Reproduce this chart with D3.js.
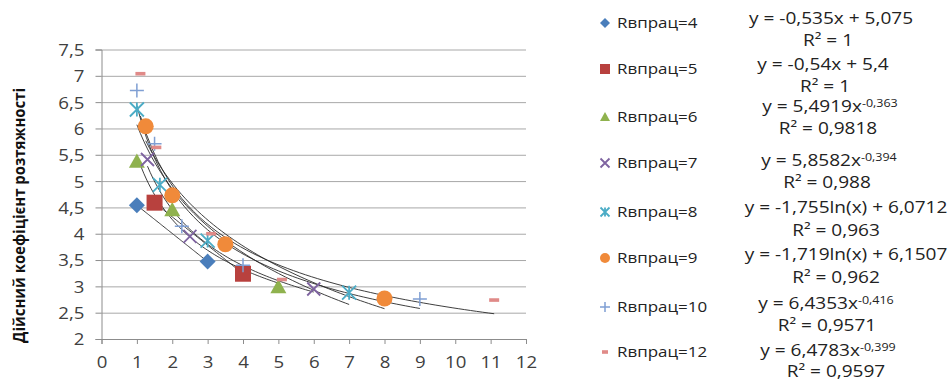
<!DOCTYPE html>
<html>
<head>
<meta charset="utf-8">
<script src="https://cdn.jsdelivr.net/npm/d3@7"></script>
<style>
  html, body { margin: 0; padding: 0; background: #fff; }
  svg { display: block; }
  text { font-family: "Open Sans", "Liberation Sans", sans-serif; }
</style>
</head>
<body>
<svg id="chart" width="948" height="380"></svg>
<script>
// ---- data ----
const seriesNames  = ["Rвпрац=4", "Rвпрац=5", "Rвпрац=6", "Rвпрац=7", "Rвпрац=8", "Rвпрац=9", "Rвпрац=10", "Rвпрац=12"];
const seriesColors = ["#4a7ebb", "#b8413e", "#8fb24e", "#7e63a0", "#4bacc6", "#f08a3a", "#7f9fd3", "#e08a88"];
const seriesShapes = ["diamond", "square", "triangle", "cross", "star", "circle", "plus", "dash"];

const xValues = [
  [1, 3],
  [1.5, 4],
  [1, 2, 5],
  [1.3, 2.5, 6],
  [1, 1.65, 3, 7],
  [1.25, 2, 3.5, 8],
  [1, 1.5, 2.27, 4, 9],
  [1.1, 1.55, 3.1, 5.1, 11.1]
];
const yValues = [
  [4.54, 3.47],
  [4.59, 3.24],
  [5.37, 4.45, 2.99],
  [5.41, 3.95, 2.95],
  [6.36, 4.93, 3.87, 2.88],
  [6.04, 4.73, 3.8, 2.77],
  [6.72, 5.71, 4.14, 3.4, 2.76],
  [7.04, 5.64, 4.0, 3.13, 2.74]
];

// trendline models: linear y=a*x+b, power y=a*x^b, log y=a*ln(x)+b
const trendTypes = ["linear", "linear", "power", "power", "log", "log", "power", "power"];
const trendA = [-0.535, -0.54, 5.4919, 5.8582, -1.755, -1.719, 6.4353, 6.4783];
const trendB = [5.075, 5.4, -0.363, -0.394, 6.0712, 6.1507, -0.416, -0.399];
const rSquared = ["1", "1", "0,9818", "0,988", "0,963", "0,962", "0,9571", "0,9597"];

const xTicks = d3.range(0, 13);
const yTicks = [2, 2.5, 3, 3.5, 4, 4.5, 5, 5.5, 6, 6.5, 7, 7.5];
const yTitle = "Дійсний коефіцієнт розтяжності";

// ---- layout ----
const plot = { left: 101.5, right: 526, top: 49.5, bottom: 339 };
const textStretch = 1.13;
const eqStretch = 1.19;
const legendX = 605, legendTextX = 617;
const legendRowY = [23, 69, 117, 163, 212, 258, 307, 352];
const eqY  = [18, 64, 106, 160, 207, 254, 303, 350];
const r2Y  = [40, 86, 128, 182, 230, 277, 325, 371];
const eqX  = [831, 823, 830, 829, 846, 846, 826, 828];
const r2X  = [828, 825, 828, 827, 836, 836, 827, 836];

const svg = d3.select("#chart");
svg.append("rect").attr("width", 948).attr("height", 380).attr("fill", "#fff");

const x = d3.scaleLinear().domain([0, 12]).range([plot.left, plot.right]);
const y = d3.scaleLinear().domain([2, 7.5]).range([plot.bottom, plot.top]);
const fmt = v => String(v).replace(".", ",");

// gridlines
svg.append("g")
  .attr("transform", `translate(${plot.left},0)`)
  .call(d3.axisLeft(y).tickValues(yTicks.slice(1)).tickSize(-(plot.right - plot.left)).tickFormat(""))
  .call(g => g.select(".domain").remove())
  .call(g => g.selectAll("line").attr("stroke", "#a8a8a8").attr("stroke-width", 1));

// y axis
svg.append("g")
  .attr("transform", `translate(${plot.left},0)`)
  .call(d3.axisLeft(y).tickValues(yTicks).tickSize(6).tickFormat(fmt))
  .call(g => g.select(".domain").attr("stroke", "#8c8c8c"))
  .call(g => g.selectAll("line").attr("stroke", "#8c8c8c"))
  .call(g => g.selectAll("text")
    .attr("x", null).attr("dy", "0.36em")
    .attr("transform", `translate(-17,0) scale(${textStretch},1)`)
    .attr("fill", "#404040").style("font-size", "16.5px").style("font-family", "'Open Sans', sans-serif"));

// x axis
svg.append("g")
  .attr("transform", `translate(0,${plot.bottom})`)
  .call(d3.axisBottom(x).tickValues(xTicks).tickSize(5).tickFormat(d => d))
  .call(g => g.select(".domain").attr("stroke", "#8c8c8c"))
  .call(g => g.selectAll("line").attr("stroke", "#8c8c8c"))
  .call(g => g.selectAll("text")
    .attr("y", null).attr("dy", "0.36em")
    .attr("transform", `translate(0,23.5) scale(${textStretch},1)`)
    .attr("fill", "#404040").style("font-size", "16.5px").style("font-family", "'Open Sans', sans-serif"));

// y axis title
svg.append("text")
  .attr("transform", `translate(20,215.5) rotate(-90)`)
  .attr("text-anchor", "middle").attr("dy", "0.35em")
  .attr("textLength", 255).attr("lengthAdjust", "spacingAndGlyphs")
  .style("font-size", "15.5px").style("font-weight", "700").attr("fill", "#111")
  .text(yTitle);

// trendlines
function trendFn(i) {
  const a = trendA[i], b = trendB[i];
  if (trendTypes[i] === "linear") return v => a * v + b;
  if (trendTypes[i] === "power") return v => a * Math.pow(v, b);
  return v => a * Math.log(v) + b;
}
const line = d3.line().x(d => x(d[0])).y(d => y(d[1]));
const trendG = svg.append("g");
seriesNames.forEach((_, i) => {
  const f = trendFn(i);
  const x0 = d3.min(xValues[i]), x1 = d3.max(xValues[i]);
  const pts = d3.range(0, 61).map(k => { const v = x0 + (x1 - x0) * k / 60; return [v, f(v)]; });
  trendG.append("path").attr("d", line(pts))
    .attr("fill", "none").attr("stroke", "#2a2a2a").attr("stroke-width", 1).attr("opacity", 0.9);
});

// marker drawing
function drawMarker(g, shape, color, s) {
  const h = s / 2;
  switch (shape) {
    case "diamond":
      g.append("path").attr("d", `M0,${-h}L${h},0L0,${h}L${-h},0Z`).attr("fill", color); break;
    case "square":
      g.append("rect").attr("x", -h).attr("y", -h).attr("width", s).attr("height", s).attr("fill", color); break;
    case "triangle":
      g.append("path").attr("d", `M0,${-h}L${h},${h * 0.78}L${-h},${h * 0.78}Z`).attr("fill", color); break;
    case "circle":
      g.append("circle").attr("r", h).attr("fill", color); break;
    case "cross":
      g.append("path").attr("d", `M${-h},${-h}L${h},${h}M${-h},${h}L${h},${-h}`)
        .attr("stroke", color).attr("stroke-width", 1.8).attr("fill", "none"); break;
    case "star":
      g.append("path").attr("d", `M${-h},${-h}L${h},${h}M${-h},${h}L${h},${-h}M0,${-h}L0,${h}`)
        .attr("stroke", color).attr("stroke-width", 1.8).attr("fill", "none"); break;
    case "plus":
      g.append("path").attr("d", `M${-h},0L${h},0M0,${-h}L0,${h}`)
        .attr("stroke", color).attr("stroke-width", 1.5).attr("fill", "none"); break;
    case "dash":
      g.append("rect").attr("x", -h).attr("y", -1.8).attr("width", s).attr("height", 3.6).attr("fill", color); break;
  }
}
const plotSizes = { diamond: 16, square: 16, triangle: 16, circle: 16, cross: 13, star: 14, plus: 14, dash: 10 };
const legendSizes = { diamond: 10, square: 10, triangle: 10, circle: 10, cross: 9, star: 9, plus: 10, dash: 6 };

const pointsG = svg.append("g");
seriesNames.forEach((_, i) => {
  xValues[i].forEach((xv, k) => {
    const g = pointsG.append("g").attr("transform", `translate(${x(xv)},${y(yValues[i][k])})`);
    drawMarker(g, seriesShapes[i], seriesColors[i], plotSizes[seriesShapes[i]]);
  });
});

// legend and trendline equations
const legendG = svg.append("g");
seriesNames.forEach((name, i) => {
  const m = legendG.append("g").attr("transform", `translate(${legendX},${legendRowY[i]})`);
  drawMarker(m, seriesShapes[i], seriesColors[i], legendSizes[seriesShapes[i]]);
  legendG.append("text")
    .attr("transform", `translate(${legendTextX},${legendRowY[i]}) scale(${textStretch},1)`)
    .attr("dy", "0.36em").attr("fill", "#222").style("font-size", "15px")
    .text(name);

  const eq = legendG.append("text")
    .attr("transform", `translate(${eqX[i]},${eqY[i]}) scale(${eqStretch},1)`)
    .attr("dy", "0.36em").attr("text-anchor", "middle").attr("fill", "#222").style("font-size", "16px");
  const a = fmt(trendA[i]), b = trendB[i];
  if (trendTypes[i] === "linear") {
    eq.text(`y = ${a}x + ${fmt(b)}`);
  } else if (trendTypes[i] === "log") {
    eq.text(`y = ${a}ln(x) + ${fmt(b)}`);
  } else {
    eq.append("tspan").text(`y = ${a}x`);
    eq.append("tspan").attr("dy", "-0.45em").style("font-size", "10.5px").text(fmt(b));
  }
  legendG.append("text")
    .attr("transform", `translate(${r2X[i]},${r2Y[i]}) scale(${eqStretch},1)`)
    .attr("dy", "0.36em").attr("text-anchor", "middle").attr("fill", "#222").style("font-size", "16px")
    .text(`R² = ${rSquared[i]}`);
});
</script>
</body>
</html>
